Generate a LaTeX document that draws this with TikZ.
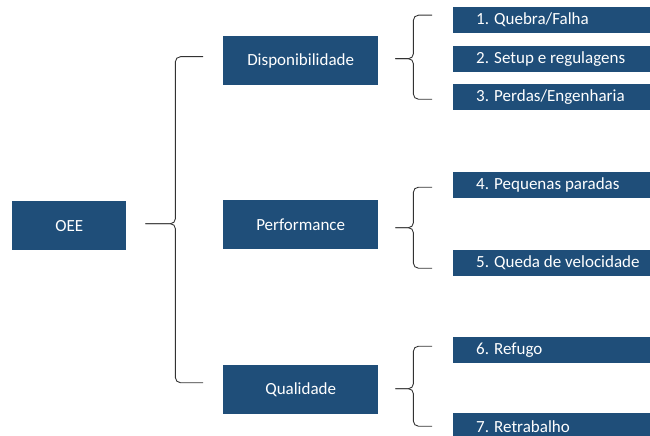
\documentclass[tikz,border=0pt]{standalone}
\usepackage{fontspec}
\setmainfont{Carlito}
\usetikzlibrary{positioning}

\definecolor{azulbox}{RGB}{31,78,121}
\definecolor{traco}{RGB}{50,50,50}

% chave: ponta (#1), haste a #2 da ponta, pontas de cima (#3) e de baixo (#4)
\newcommand{\desenhachave}[4]{%
  \coordinate (#1h) at ([xshift=#2]#1);
  \draw[chave] (#3) -- (#3 -| #1h) -- (#1h) -- (#1);
  \draw[chave] (#4) -- (#4 -| #1h) -- (#1h) -- (#1);
}

\tikzset{
  caixa/.style={fill=azulbox, text=white, font=\fontsize{17}{20}\selectfont,
    inner sep=0pt, anchor=north west},
  pilar/.style={caixa, minimum width=155pt, minimum height=49pt},
  item/.style={caixa, minimum height=26pt, text width=197pt, align=flush left,
    execute at begin node={\hspace*{23pt}}},
  chave/.style={draw=traco, line width=0.9pt, rounded corners=5pt}
}

\begin{document}
\begin{tikzpicture}[x=1pt, y=-1pt]
\clip (0,0) rectangle (650,436);

% Caixas
\node[caixa, minimum width=114pt, minimum height=49pt] (oee) at (12,201) {OEE};

\node[pilar] (disp) at (223,36)  {Disponibilidade};
\node[pilar] (perf) at (223,200) {Performance};
\node[pilar] (qual) at (223,365) {Qualidade};

\node[item] (q1) at (453,7)   {1. Quebra/Falha};
\node[item] (q2) at (453,46)  {2. Setup e regulagens};
\node[item] (q3) at (453,84)  {3. Perdas/Engenharia};
\node[item] (q4) at (453,172) {4. Pequenas paradas};
\node[item] (q5) at (453,250) {5. Queda de velocidade};
\node[item] (q6) at (453,337) {6. Refugo};
\node[item] (q7) at (453,413) {7. Retrabalho};

% Pontas das chaves
\coordinate (c0) at ([xshift=19pt,yshift=2pt]oee.east);
\coordinate (c0a) at ([xshift=-20pt,yshift=4pt]disp.west);
\coordinate (c0b) at ([xshift=-20pt,yshift=7pt]qual.west);

\coordinate (c1) at ([xshift=17pt,yshift=2pt]disp.east);
\coordinate (c1a) at ([xshift=-21pt,yshift=5pt]q1.west);
\coordinate (c1b) at ([xshift=-21pt,yshift=-2pt]q3.west);

\coordinate (c2) at ([xshift=17pt,yshift=-3pt]perf.east);
\coordinate (c2a) at ([xshift=-21pt,yshift=-2pt]q4.west);
\coordinate (c2b) at ([xshift=-21pt,yshift=-5pt]q5.west);

\coordinate (c3) at ([xshift=17pt,yshift=1pt]qual.east);
\coordinate (c3a) at ([xshift=-21pt,yshift=4pt]q6.west);
\coordinate (c3b) at ([xshift=-21pt]q7.west);

% Chaves
\desenhachave{c0}{30pt}{c0a}{c0b}
\desenhachave{c1}{18pt}{c1a}{c1b}
\desenhachave{c2}{18pt}{c2a}{c2b}
\desenhachave{c3}{18pt}{c3a}{c3b}
\end{tikzpicture}
\end{document}
